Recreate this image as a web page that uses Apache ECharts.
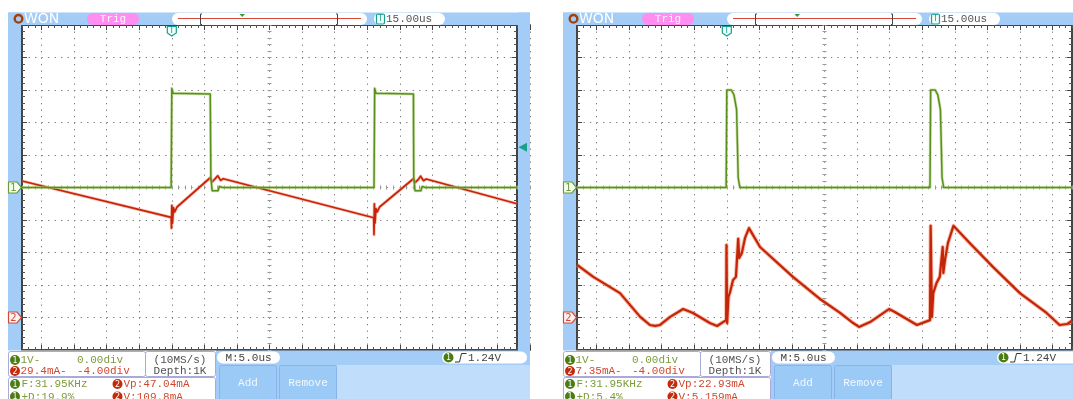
<!DOCTYPE html>
<html>
<head>
<meta charset="utf-8">
<title>OWON scope captures</title>
<script src="https://cdn.jsdelivr.net/npm/echarts@6.0.0/dist/echarts.min.js"></script>
<style>
html, body { margin: 0; padding: 0; background: #fff; }
#main { width: 1073px; height: 399px; }
</style>
</head>
<body>
<div id="main"></div>
<script>
// two scope screens, 5us/div, 15.2 x 10 div, trigger at -15us
// traces: [time us, divisions]

// screen A: ch1 gate drive
const ch1TraceA = [
  [-38, 0], [-15.1, 0], [-15.0, 3.05], [-14.8, 2.9], [-14.5, 2.88], [-9.1, 2.88],
  [-9.0, 0.3], [-8.8, -0.1], [-7.9, -0.1], [-7.7, 0.03], [-7.2, 0],
  [16.05, 0], [16.15, 3.05], [16.35, 2.9], [16.65, 2.88], [22.1, 2.88],
  [22.15, 0.3], [22.35, -0.1], [23.25, -0.1], [23.45, 0.03], [23.95, 0], [38, 0]
];
// screen A: ch2 inductor current
const ch2TraceA = [
  [-38, 0.2], [-15.1, -0.92], [-15.05, -1.25], [-15.0, -0.55], [-14.9, -1.1],
  [-14.75, -0.62], [-14.55, -0.75], [-14.2, -0.6], [-9.1, 0.3], [-8.85, 0.16],
  [-8.3, 0.28], [-7.95, 0.36], [-7.5, 0.22], [-7.1, 0.27], [16.0, -0.93],
  [16.05, -1.45], [16.1, -0.5], [16.2, -1.1], [16.35, -0.65], [16.55, -0.75],
  [16.9, -0.6], [22.1, 0.27], [22.35, 0.15], [22.9, 0.26], [23.2, 0.35],
  [23.65, 0.21], [24.05, 0.26], [38, -0.5]
];
// screen B: ch1
const ch1TraceB = [
  [-38, 0], [-15.1, 0], [-15.0, 3.0], [-14.3, 3.0], [-13.9, 2.85], [-13.5, 2.4],
  [-13.25, 0.3], [-13.0, 0], [16.2, 0], [16.3, 3.0], [17.0, 3.0], [17.4, 2.85],
  [17.8, 2.4], [18.05, 0.3], [18.3, 0], [38, 0]
];
// screen B: ch2
const ch2TraceB = [
  [-38, -2.38], [-35.5, -2.75], [-31.4, -3.25], [-28.3, -3.98], [-26.8, -4.23],
  [-26.0, -4.26], [-25.25, -4.23], [-23.7, -3.98], [-21.7, -3.74], [-20.2, -3.86],
  [-17.6, -4.17], [-16.5, -4.26], [-15.1, -4.08], [-15.05, -1.77], [-14.95, -4.17],
  [-14.75, -3.37], [-14.5, -3.22], [-14.05, -2.85], [-13.6, -2.75], [-13.25, -1.58],
  [-13.1, -2.17], [-12.7, -2.02], [-12.2, -1.55], [-11.6, -1.25], [-9.9, -1.83],
  [-4.85, -2.75], [-0.7, -3.43], [2.4, -3.86], [4.4, -4.17], [5.3, -4.29],
  [7.0, -4.14], [9.9, -3.74], [10.8, -3.83], [14.2, -4.23], [16.2, -4.08],
  [16.3, -1.18], [16.5, -3.98], [16.7, -3.25], [17.2, -2.94], [17.7, -2.75],
  [18.15, -1.83], [18.25, -2.63], [18.5, -2.23], [18.95, -1.71], [19.8, -1.18],
  [22.3, -1.71], [25.9, -2.45], [30.0, -3.25], [34.1, -3.86], [36.1, -4.23],
  [37.3, -4.2], [38, -4.1]
];

const triggerTimeUs = -15;
const triggerLevelDiv = 1.24;
const ch1GroundDiv = [0, 0];
const ch2GroundDiv = [-4, -4];

// readouts, one per screen
const ch1ScaleText = ['1V-', '1V-'];
const ch1OffsetText = ['0.00div', '0.00div'];
const ch2ScaleText = ['29.4mA-', '7.35mA-'];
const ch2OffsetText = ['-4.00div', '-4.00div'];
const sampleText = ['(10MS/s)', '(10MS/s)'];
const depthText = ['Depth:1K', 'Depth:1K'];
const freqText = ['F:31.95KHz', 'F:31.95KHz'];
const vpText = ['Vp:47.04mA', 'Vp:22.93mA'];
const dutyText = ['+D:19.9%', '+D:5.4%'];
const vText = ['V:109.8mA', 'V:5.159mA'];
const timebaseText = ['M:5.0us', 'M:5.0us'];
const trigLevelText = ['1.24V', '1.24V'];
const hposText = ['15.00us', '15.00us'];

const BLUE = '#a3cdf7';
const LIGHT = '#c0ddfb';
const GREEN_TXT = '#7c9c3c';
const RED_TXT = '#d04830';
const GREEN_DOT = '#4c7d12';
const RED_DOT = '#c22a0c';
const TEAL = '#17a08c';
const MONO = '"Liberation Mono", "DejaVu Sans Mono", monospace';

const panelDx = [0, 555];

const chart = echarts.init(document.getElementById('main'));

const grids = [], xAxes = [], yAxes = [], series = [];

panelDx.forEach((dx, gi) => {
  // grid is 0.4 div wider each side, the blue side strips hide that
  grids.push({ left: 9 + dx, top: 25, width: 521, height: 325, containLabel: false, outerBoundsMode: 'none' });

  const ruler = (pos) => ({
    gridIndex: gi, type: 'value', position: pos,
    axisLine: { show: true, onZero: false, lineStyle: { color: '#444', width: 2 } },
    axisTick: { show: true, inside: true, length: 5, lineStyle: { color: '#444' } },
    minorTick: { show: true, splitNumber: 5, length: 3, lineStyle: { color: '#555' } },
    axisLabel: { show: false },
    splitLine: { show: false }
  });
  const center = (off) => ({
    gridIndex: gi, type: 'value', offset: off,
    axisLine: { show: false, onZero: false },
    axisTick: { show: true, inside: true, length: 4, lineStyle: { color: '#9a9a9a' } },
    minorTick: { show: true, splitNumber: 5, length: 4, lineStyle: { color: '#9a9a9a' } },
    axisLabel: { show: false },
    splitLine: { show: false }
  });

  const xb = ruler('bottom');
  xb.splitLine = { show: true, lineStyle: { color: '#7a7a7a', width: 1, type: [1.3, 5.2] } };
  const xt = ruler('top');
  const xc = Object.assign(center(-160.5), { position: 'bottom' });
  [xb, xt, xc].forEach(a => { a.min = -40; a.max = 40; a.interval = 5; xAxes.push(a); });

  const yl = ruler('left');
  yl.offset = -13;
  yl.splitLine = { show: true, lineStyle: { color: '#7a7a7a', width: 1, type: [1.3, 5.21] } };
  const yr = ruler('right');
  yr.offset = -13;
  const yc = Object.assign(center(-258.5), { position: 'left' });
  [yl, yr, yc].forEach(a => { a.min = -5; a.max = 5; a.interval = 1; yAxes.push(a); });
});

function trace(gi, data, halo, haloW, core, coreW, z) {
  const base = {
    type: 'line', xAxisIndex: gi * 3, yAxisIndex: gi * 3, data: data,
    showSymbol: false, symbol: 'none', silent: true, animation: false
  };
  series.push(Object.assign({}, base, { z: z, lineStyle: { color: halo, width: haloW, join: 'round' } }));
  series.push(Object.assign({}, base, { z: z + 1, lineStyle: { color: core, width: coreW, join: 'round' } }));
}

trace(0, ch2TraceA, 'rgba(240,130,100,0.5)', 3.2, '#c8230a', 1.7, 3);
trace(0, ch1TraceA, 'rgba(170,205,120,0.6)', 3, '#5b8f1c', 1.5, 5);
trace(1, ch2TraceB, 'rgba(240,125,85,0.55)', 4, '#c42408', 2.2, 3);
trace(1, ch1TraceB, 'rgba(170,205,120,0.6)', 3, '#5b8f1c', 1.5, 5);

chart.setOption({
  animation: false,
  grid: grids,
  xAxis: xAxes,
  yAxis: yAxes,
  series: series
});

// ---- screen chrome ----
function rect(x, y, w, h, fill, o) {
  o = o || {};
  return { type: 'rect', silent: true, z: o.z || 10,
    shape: { x: x, y: y, width: w, height: h, r: o.r || 0 },
    style: { fill: fill, stroke: o.stroke || null, lineWidth: o.lw || 1 } };
}
function txt(x, y, s, fill, size, align, font) {
  return { type: 'text', silent: true, z: 13, x: x, y: y,
    style: { text: s, fill: fill, font: size + 'px ' + (font || MONO),
      align: align || 'left', textAlign: align || 'left',
      verticalAlign: 'middle', textVerticalAlign: 'middle' } };
}
function dot(cx, cy, color, n) {
  return [
    { type: 'circle', silent: true, z: 12, shape: { cx: cx, cy: cy, r: 5 }, style: { fill: color } },
    txt(cx, cy + 0.5, n, '#fff', 8, 'center', '"DejaVu Sans", sans-serif')
  ];
}

const elements = [];

panelDx.forEach((dx, i) => {
  const X = v => v + dx;
  const e = elements;

  // frame
  e.push(rect(X(8), 12.5, 522, 12.5, BLUE));
  e.push(rect(X(8), 12.5, 13, 338.5, BLUE));
  e.push(rect(X(518), 12.5, 12, 338.5, BLUE));

  // logo
  e.push({ type: 'circle', silent: true, z: 12, shape: { cx: X(18.5), cy: 18.8, r: 3.8 },
    style: { fill: 'none', stroke: '#a3400c', lineWidth: 2.4 } });
  e.push(txt(X(24), 19.2, 'WON', '#ffffff', 14, 'left', '"DejaVu Sans", sans-serif'));

  // trig pill
  e.push(rect(X(87), 13, 52, 12, '#ff8ef0', { r: 6, z: 11 }));
  e.push(txt(X(113), 19.3, 'Trig', '#fff4ff', 11, 'center'));

  // memory bar
  e.push(rect(X(172), 13, 195, 12, '#ffffff', { r: 6, z: 11 }));
  e.push({ type: 'line', silent: true, z: 12, shape: { x1: X(178), y1: 18.5, x2: X(361), y2: 18.5 },
    style: { stroke: '#d9463a', lineWidth: 1.2 } });
  e.push({ type: 'polyline', silent: true, z: 12,
    shape: { points: [[X(202), 14], [X(200.5), 14], [X(200.5), 24.5], [X(202), 24.5]] },
    style: { stroke: '#444', lineWidth: 1, fill: null } });
  e.push({ type: 'polyline', silent: true, z: 12,
    shape: { points: [[X(336), 14], [X(337.5), 14], [X(337.5), 24.5], [X(336), 24.5]] },
    style: { stroke: '#444', lineWidth: 1, fill: null } });
  e.push({ type: 'polygon', silent: true, z: 12,
    shape: { points: [[X(239.5), 14], [X(245), 14], [X(242.2), 17]] },
    style: { fill: '#3a9a3a' } });

  // horizontal position pill
  e.push(rect(X(374), 13, 71, 12, '#ffffff', { r: 6, z: 11 }));
  e.push(rect(X(376.5), 14, 8, 10, '#effff9', { r: 1.5, z: 12, stroke: TEAL, lw: 1.2 }));
  e.push(txt(X(380.5), 19.2, 'T', TEAL, 8, 'center', '"DejaVu Sans", sans-serif'));
  e.push(txt(X(386), 19.5, hposText[i], '#555', 11));

  // bottom readouts
  e.push(rect(X(8), 350.5, 208, 49, '#ffffff'));
  e.push(rect(X(8.5), 351.5, 137, 25, '#ffffff', { r: 2, stroke: '#a9a9da' }));
  e.push(rect(X(145.5), 351.5, 70, 25, '#ffffff', { r: 2, stroke: '#a9a9da' }));
  e.push(rect(X(8.5), 377.5, 207, 30, '#ffffff', { r: 2, stroke: '#a9a9da' }));

  e.push(...dot(X(15), 360, GREEN_DOT, '1'));
  e.push(txt(X(20.5), 360.5, ch1ScaleText[i], GREEN_TXT, 11));
  e.push(txt(X(77), 360.5, ch1OffsetText[i], GREEN_TXT, 11));
  e.push(...dot(X(15), 371, RED_DOT, '2'));
  e.push(txt(X(20.5), 371.5, ch2ScaleText[i], RED_TXT, 11));
  e.push(txt(X(77), 371.5, ch2OffsetText[i], RED_TXT, 11));

  e.push(txt(X(180), 360.5, sampleText[i], '#505050', 11, 'center'));
  e.push(txt(X(180), 371.5, depthText[i], '#505050', 11, 'center'));

  e.push(...dot(X(15), 384, GREEN_DOT, '1'));
  e.push(txt(X(21.5), 384.5, freqText[i], GREEN_TXT, 11));
  e.push(...dot(X(117.5), 384, RED_DOT, '2'));
  e.push(txt(X(123.5), 384.5, vpText[i], RED_TXT, 11));
  e.push(...dot(X(15), 396.5, GREEN_DOT, '1'));
  e.push(txt(X(21.5), 397, dutyText[i], GREEN_TXT, 11));
  e.push(...dot(X(117.5), 396.5, RED_DOT, '2'));
  e.push(txt(X(123.5), 397, vText[i], RED_TXT, 11));

  // menu area
  e.push(rect(X(216), 350.5, 314, 49, BLUE));
  e.push(rect(X(337), 365, 193, 34, LIGHT));
  e.push(rect(X(219.5), 365.5, 57, 40, '#9ccaf6', { r: 2, stroke: '#86b4ea' }));
  e.push(txt(X(248), 383.5, 'Add', '#f2f8ff', 11, 'center'));
  e.push(rect(X(279.5), 365.5, 57, 40, '#9ccaf6', { r: 2, stroke: '#86b4ea' }));
  e.push(txt(X(308), 383.5, 'Remove', '#f2f8ff', 11, 'center'));

  e.push(rect(X(217), 351.5, 63, 12, '#ffffff', { r: 6, z: 11 }));
  e.push(txt(X(248.5), 357.8, timebaseText[i], '#444', 11, 'center'));

  e.push(rect(X(442), 351.5, 85, 12, '#ffffff', { r: 6, z: 11 }));
  e.push(...dot(X(448.5), 357.5, GREEN_DOT, '1'));
  e.push({ type: 'polyline', silent: true, z: 12,
    shape: { points: [[X(455), 362], [X(459.5), 362], [X(461.5), 353.5], [X(466.5), 353.5]] },
    style: { stroke: '#333', lineWidth: 1, fill: null } });
  e.push(txt(X(468), 358, trigLevelText[i], '#444', 11));

  // markers placed through the axes
  const xi = i * 3, yi = i * 3;
  const y1 = chart.convertToPixel({ yAxisIndex: yi }, ch1GroundDiv[i]);
  const y2 = chart.convertToPixel({ yAxisIndex: yi }, ch2GroundDiv[i]);
  const yT = chart.convertToPixel({ yAxisIndex: yi }, triggerLevelDiv);
  const xT = chart.convertToPixel({ xAxisIndex: xi }, triggerTimeUs);

  const tab = (y, stroke, fill, n) => {
    e.push({ type: 'polygon', silent: true, z: 14,
      shape: { points: [[X(8.5), y - 5.5], [X(17), y - 5.5], [X(21.5), y], [X(17), y + 5.5], [X(8.5), y + 5.5]] },
      style: { fill: fill, stroke: stroke, lineWidth: 1.2 } });
    const t = txt(X(13.5), y + 0.5, n, stroke, 10, 'center', '"DejaVu Sans", sans-serif');
    t.z = 15;
    e.push(t);
  };
  tab(y1, '#6a9a3a', '#f6ffee', '1');
  tab(y2, '#d04a3a', '#fff2f0', '2');

  e.push({ type: 'polygon', silent: true, z: 14,
    shape: { points: [[X(518.5), yT], [X(527), yT - 4.5], [X(527), yT + 4.5]] },
    style: { fill: TEAL } });

  e.push({ type: 'polygon', silent: true, z: 14,
    shape: { points: [[xT - 4.5, 26.5], [xT + 4.5, 26.5], [xT + 4.5, 33], [xT, 36], [xT - 4.5, 33]] },
    style: { fill: '#effff9', stroke: TEAL, lineWidth: 1.2 } });
  const tt = txt(xT, 30.5, 'T', TEAL, 8, 'center', '"DejaVu Sans", sans-serif');
  tt.z = 15;
  e.push(tt);
});

chart.setOption({ graphic: { elements: elements } });
</script>
</body>
</html>
